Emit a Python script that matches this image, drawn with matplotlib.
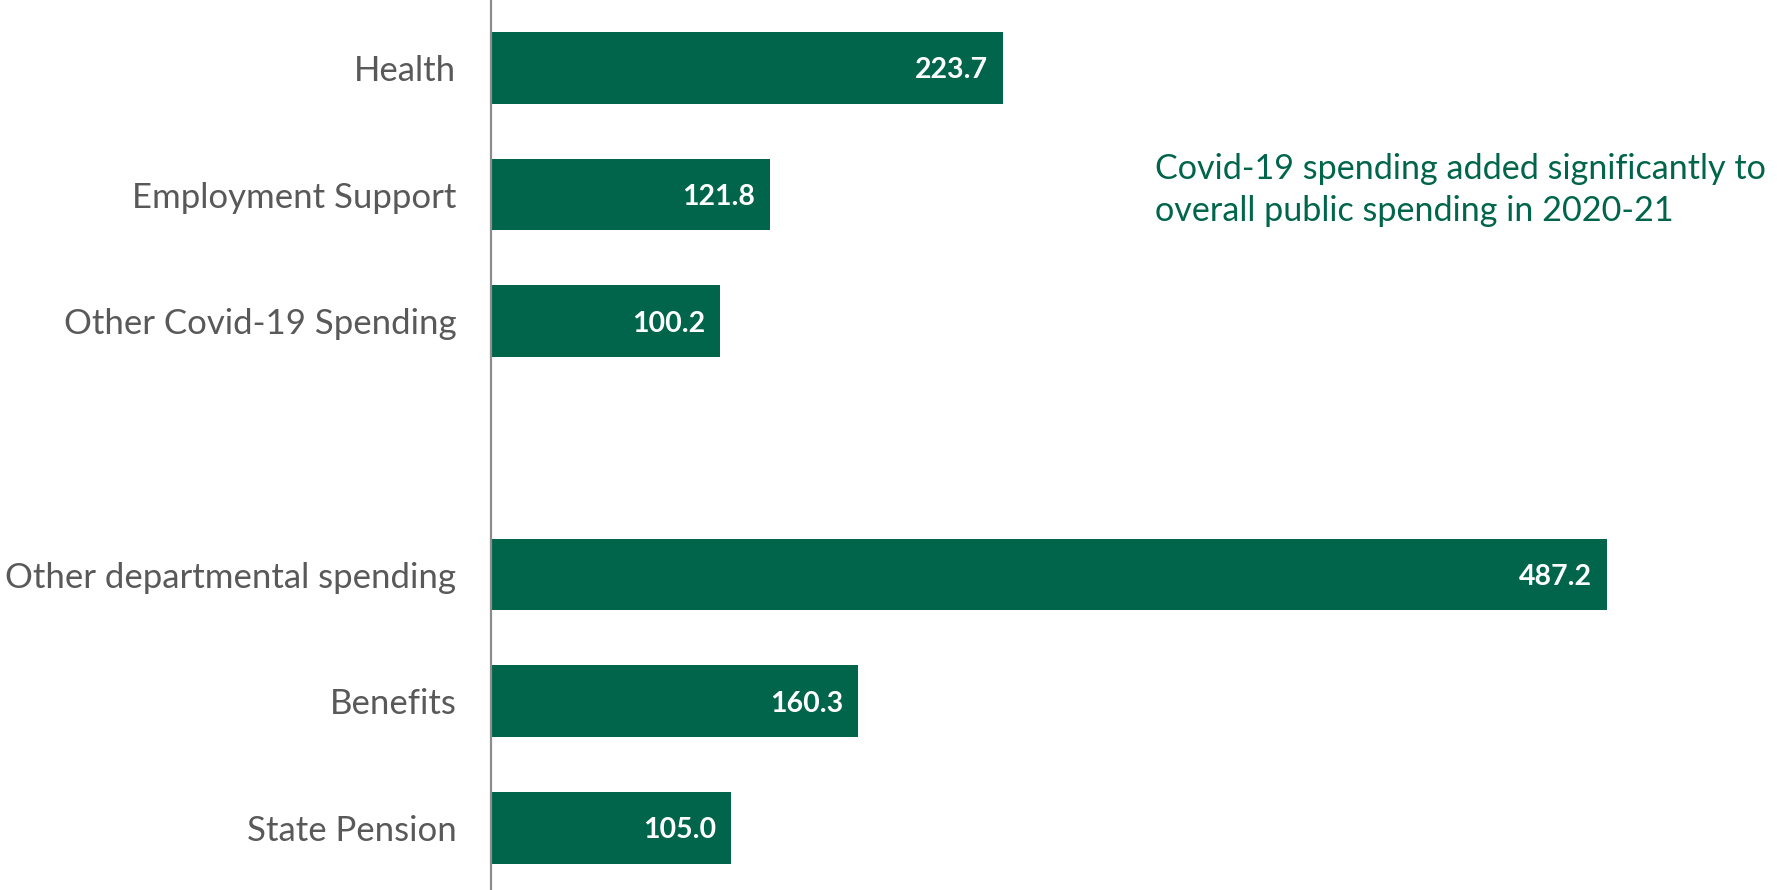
import matplotlib.pyplot as plt

# spending by area, £bn, 2020-21
categories = ["Health", "Employment Support", "Other Covid-19 Spending", "",
              "Other departmental spending", "Benefits", "State Pension"]
values = [223.7, 121.8, 100.2, None, 487.2, 160.3, 105.0]

green = "#00654a"
grey = "#595959"

plt.rcParams['font.family'] = ['Lato', 'DejaVu Sans']

fig = plt.figure(figsize=(17.77, 8.9), dpi=100)
ax = fig.add_axes([491 / 1777, 0, 1 - 491 / 1777, 1])

ys = list(range(len(categories)))
for y, v in zip(ys, values):
    if v is None:
        continue
    ax.barh(y, v, height=0.565, color=green)
    ax.text(v - 6.5, y + 0.02, f"{v:.1f}", color="white", fontweight="bold",
            fontsize=20.5, ha="right", va="center")

ax.set_yticks(ys)
ax.set_yticklabels(categories, fontsize=25, color=grey)
ax.tick_params(axis="y", length=0, pad=25)
ax.set_xticks([])
ax.set_xlim(0, (1777 - 491) / 2.29)
ax.set_ylim(6.49, -0.536)

for s in ["top", "right", "bottom"]:
    ax.spines[s].set_visible(False)
ax.spines["left"].set_color("#8c8c8c")
ax.spines["left"].set_linewidth(1.6)

fig.text(1155 / 1777, 1 - 190 / 890,
         "Covid-19 spending added significantly to\noverall public spending in 2020-21",
         color=green, fontsize=24.6, ha="left", va="center", linespacing=1.42)

fig.savefig("out.png", dpi=100)
